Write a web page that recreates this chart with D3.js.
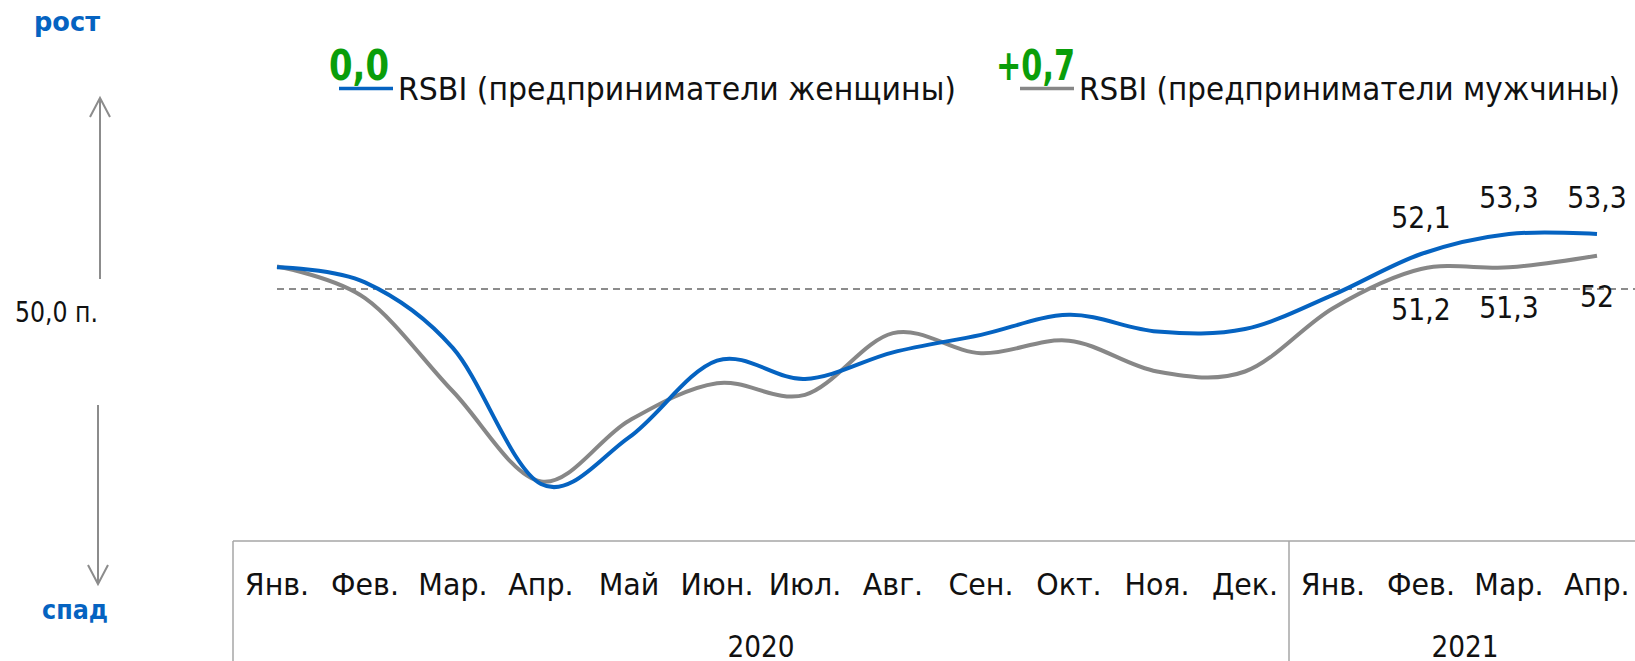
<!DOCTYPE html>
<html>
<head>
<meta charset="utf-8">
<script src="https://cdn.jsdelivr.net/npm/d3@7"></script>
<style>
body { margin: 0; background: #fff; }
svg text { font-family: "DejaVu Sans", sans-serif; }
</style>
</head>
<body>
<div id="chart"></div>
<script>
// data
var months = ["Янв.", "Фев.", "Мар.", "Апр.", "Май", "Июн.", "Июл.", "Авг.", "Сен.", "Окт.", "Ноя.", "Дек.",
              "Янв.", "Фев.", "Мар.", "Апр."];
var years = ["2020", "2021"];
var yearSpans = [12, 4];
var women = [51.3, 50.4, 46.45, 38.3, 41.1, 45.7, 44.6, 46.2, 47.25, 48.45, 47.45, 47.6, 49.65, 52.1, 53.3, 53.3];
var men   = [51.35, 49.45, 43.85, 38.45, 42.1, 44.35, 43.65, 47.35, 46.15, 46.9, 45.05, 45.05, 48.85, 51.2, 51.3, 52];
var seriesNames = ["RSBI (предприниматели женщины)", "RSBI (предприниматели мужчины)"];
var labelFrom = 13;
var neutral = 50;

var width = 1635, height = 661;
var blue = "#0563c1", grey = "#878787", green = "#0a9e0a", axisGrey = "#a6a6a6";

var svg = d3.select("#chart").append("svg")
    .attr("width", width)
    .attr("height", height);

var x = d3.scaleBand()
    .domain(d3.range(months.length))
    .range([233, 1641]);
var cx = function(i) { return x(i) + x.bandwidth() / 2; };

var y = d3.scaleLinear()
    .domain([50, 53.3])
    .range([289, 234]);

function fmt(v) { return String(v).replace(".", ","); }
function delta(arr) {
    var d = arr[arr.length - 1] - arr[arr.length - 2];
    return (d > 0.001 ? "+" : "") + d.toFixed(1).replace(".", ",");
}
function fit(sel, w) { sel.attr("textLength", w).attr("lengthAdjust", "spacingAndGlyphs"); }
function squeeze(sel, k) {
    sel.each(function() {
        d3.select(this).attr("textLength", this.getComputedTextLength() * k)
            .attr("lengthAdjust", "spacingAndGlyphs");
    });
}

// side labels and arrows
svg.append("text").attr("x", 67).attr("y", 31).attr("text-anchor", "middle")
    .attr("font-size", 27).attr("font-weight", "bold").attr("fill", blue)
    .text("рост").call(fit, 66);
svg.append("text").attr("x", 75).attr("y", 619).attr("text-anchor", "middle")
    .attr("font-size", 27).attr("font-weight", "bold").attr("fill", blue)
    .text("спад").call(fit, 66);
svg.append("text").attr("x", 15).attr("y", 322)
    .attr("font-size", 29).attr("fill", "#111")
    .text(fmt(neutral.toFixed(1)) + " п.").call(fit, 83);

var arrows = svg.append("g").attr("stroke", "#8c8c8c").attr("stroke-width", 2).attr("fill", "none");
arrows.append("line").attr("x1", 100).attr("x2", 100).attr("y1", 98).attr("y2", 279);
arrows.append("path").attr("d", "M90,117L100,98L110,117");
arrows.append("line").attr("x1", 98).attr("x2", 98).attr("y1", 405).attr("y2", 583);
arrows.append("path").attr("d", "M88,565L98,584L108,565");

// neutral line
svg.append("line")
    .attr("x1", cx(0)).attr("x2", width)
    .attr("y1", y(neutral)).attr("y2", y(neutral))
    .attr("stroke", "#8c8c8c").attr("stroke-width", 2).attr("stroke-dasharray", "7,5");

// lines
var line = d3.line()
    .x(function(d, i) { return cx(i); })
    .y(function(d) { return y(d); })
    .curve(d3.curveCardinal.tension(0));

svg.append("path").datum(men).attr("d", line)
    .attr("fill", "none").attr("stroke", grey).attr("stroke-width", 4);
svg.append("path").datum(women).attr("d", line)
    .attr("fill", "none").attr("stroke", blue).attr("stroke-width", 4);

// data labels
var idx = d3.range(labelFrom, months.length);
svg.append("g").selectAll("text").data(idx).enter().append("text")
    .attr("x", function(i) { return cx(i); })
    .attr("y", function(i) { return y(women[i]) - 26; })
    .attr("text-anchor", "middle").attr("font-size", 31).attr("fill", "#111")
    .text(function(i) { return fmt(women[i]); })
    .call(squeeze, 0.86);
svg.append("g").selectAll("text").data(idx).enter().append("text")
    .attr("x", function(i) { return cx(i); })
    .attr("y", function(i) { return y(men[i]) + 51; })
    .attr("text-anchor", "middle").attr("font-size", 31).attr("fill", "#111")
    .text(function(i) { return fmt(men[i]); })
    .call(squeeze, 0.86);

// legend
var legend = [
    {name: seriesNames[0], color: blue, d: delta(women), dx: 329, dw: 60, lx: 339, tx: 398, tw: 558},
    {name: seriesNames[1], color: grey, d: delta(men), dx: 996, dw: 79, lx: 1020, tx: 1079, tw: 541}
];
legend.forEach(function(l) {
    svg.append("line").attr("x1", l.lx).attr("x2", l.lx + 54).attr("y1", 88.5).attr("y2", 88.5)
        .attr("stroke", l.color).attr("stroke-width", 3.5);
    svg.append("text").attr("x", l.dx).attr("y", 80)
        .attr("font-size", 42).attr("font-weight", "bold").attr("fill", green)
        .text(l.d).call(fit, l.dw);
    svg.append("text").attr("x", l.tx).attr("y", 100)
        .attr("font-size", 32).attr("fill", "#111")
        .text(l.name).call(fit, l.tw);
});

// category table
var table = svg.append("g").attr("stroke", axisGrey).attr("stroke-width", 1.5);
table.append("line").attr("x1", x(0)).attr("x2", width).attr("y1", 541).attr("y2", 541);
var starts = [0];
yearSpans.forEach(function(s, i) { starts.push(starts[i] + s); });
starts.slice(0, years.length).forEach(function(s) {
    table.append("line").attr("x1", x(s)).attr("x2", x(s)).attr("y1", 541).attr("y2", height);
});

svg.append("g").selectAll("text").data(months).enter().append("text")
    .attr("x", function(d, i) { return cx(i); })
    .attr("y", 595)
    .attr("text-anchor", "middle").attr("font-size", 31).attr("fill", "#111")
    .text(function(d) { return d; })
    .call(squeeze, 0.92);

svg.append("g").selectAll("text").data(years).enter().append("text")
    .attr("x", function(d, i) { return (x(starts[i]) + x(starts[i + 1] - 1) + x.bandwidth()) / 2; })
    .attr("y", 657)
    .attr("text-anchor", "middle").attr("font-size", 30).attr("fill", "#111")
    .text(function(d) { return d; })
    .call(squeeze, 0.88);
</script>
</body>
</html>
